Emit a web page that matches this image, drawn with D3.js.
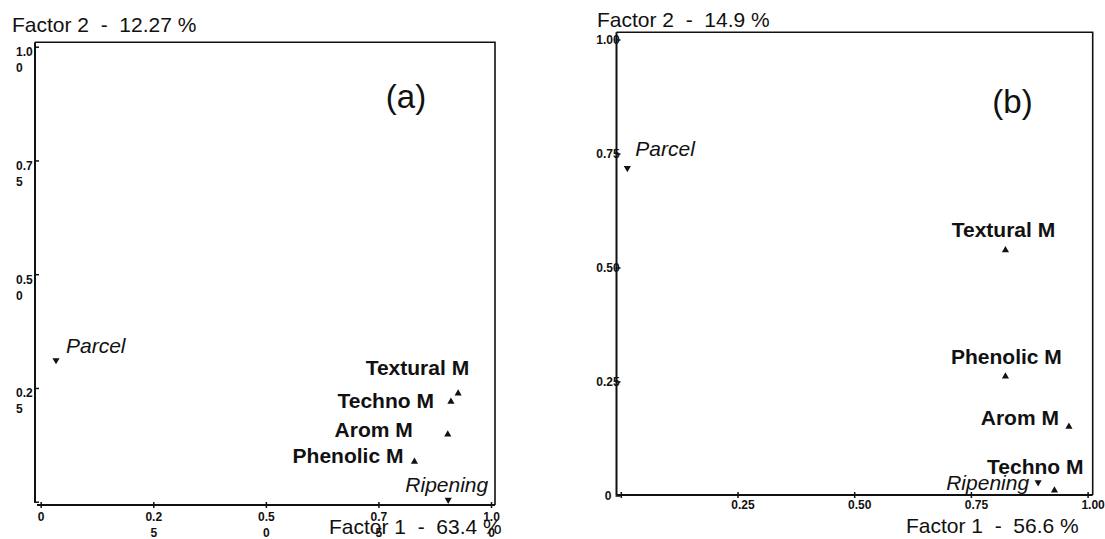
<!DOCTYPE html>
<html>
<head>
<meta charset="utf-8">
<script src="https://cdn.jsdelivr.net/npm/d3@7"></script>
<style>
  html, body { margin: 0; padding: 0; background: #fff; }
  svg { display: block; font-family: "Liberation Sans", Arial, Helvetica, sans-serif; }
</style>
</head>
<body>
<svg id="chart" width="1105" height="539"></svg>
<script>
// Variables projected on the first factorial plane
const variables = ["Parcel", "Textural M", "Techno M", "Arom M", "Phenolic M", "Ripening"];
const variableRole = ["supplementary", "active", "active", "active", "active", "supplementary"];

// Panel (a)
const factor1A = [0.034, 0.927, 0.911, 0.904, 0.830, 0.905];
const factor2A = [0.311, 0.238, 0.220, 0.148, 0.088, 0.004];
const inertiaA = [63.4, 12.27];

// Panel (b)
const factor1B = [0.014, 0.824, 0.929, 0.960, 0.824, 0.894];
const factor2B = [0.718, 0.538, 0.011, 0.151, 0.261, 0.029];
const inertiaB = [56.6, 14.9];

// Axis ticks
const tickValues = [0, 0.25, 0.5, 0.75, 1];
const xTickLabelsA = ["0", "0.25", "0.50", "0.75", "1.00"];
const yTickLabelsA = ["", "0.25", "0.50", "0.75", "1.00"];
const xTickLabelsB = ["", "0.25", "0.50", "0.75", "1.00"];
const yTickLabelsB = ["0", "0.25", "0.50", "0.75", "1.00"];

// ---- layout of each panel (pixels) ----
const layoutA = {
  tag: "(a)", tagX: 406, tagY: 108,
  yAxisX: 35, xAxisY: 505, top: 42.3, right: 495,
  xRange: [40.7, 491], yRange: [501.7, 46.7],
  yAxisBottom: 502, xAxisLeft: 37,
  wrapTicks: true,
  yTitle: { x: 12, y: 31.7 }, xTitle: { x: 329, y: 534 },
  labels: [
    { anchor: "start",  dx: 10,  dy: -7 },
    { anchor: "end",    dx: 11,  dy: -18 },
    { anchor: "end",    dx: -17, dy: 6 },
    { anchor: "end",    dx: -35, dy: 2.4 },
    { anchor: "end",    dx: -11, dy: 1.6 },
    { anchor: "end",    dx: 40,  dy: -8 }
  ]
};
const layoutB = {
  tag: "(b)", tagX: 1012.5, tagY: 113,
  yAxisX: 616.5, xAxisY: 495, top: 32.3, right: 1092.7,
  xRange: [620.8, 1087.6], yRange: [495.5, 39.5],
  yAxisBottom: 495, xAxisLeft: 616.5,
  wrapTicks: false,
  yTitle: { x: 597, y: 26.7 }, xTitle: { x: 906, y: 533 },
  labels: [
    { anchor: "start",  dx: 8,   dy: -11.6 },
    { anchor: "middle", dx: -2,  dy: -13 },
    { anchor: "end",    dx: 29,  dy: -16 },
    { anchor: "end",    dx: -10, dy: -1.7 },
    { anchor: "middle", dx: 1,   dy: -12 },
    { anchor: "end",    dx: -9,  dy: 8 }
  ]
};

const svg = d3.select("#chart");
const INK = "#111";

// Long tick labels wrap onto a second line, three characters per line
function splitLabel(s) {
  const out = [];
  for (let i = 0; i < s.length; i += 3) out.push(s.slice(i, i + 3));
  return out.length ? out : [""];
}

function drawPanel(L, f1, f2, inertia, xLabels, yLabels) {
  const g = svg.append("g");
  const x = d3.scaleLinear().domain([0, 1]).range(L.xRange);
  const y = d3.scaleLinear().domain([0, 1]).range(L.yRange);

  // frame: top and right edges
  g.append("path")
    .attr("d", `M${L.yAxisX},${L.top}H${L.right}V${L.xAxisY}`)
    .attr("fill", "none").attr("stroke", INK).attr("stroke-width", 1.6);

  // axis lines
  g.append("line")
    .attr("x1", L.yAxisX).attr("x2", L.yAxisX)
    .attr("y1", L.top).attr("y2", L.yAxisBottom)
    .attr("stroke", INK).attr("stroke-width", 2);
  g.append("line")
    .attr("x1", L.xAxisLeft).attr("x2", L.right)
    .attr("y1", L.xAxisY).attr("y2", L.xAxisY)
    .attr("stroke", INK).attr("stroke-width", 2);

  // x axis ticks and labels
  const gx = g.append("g")
    .attr("transform", `translate(0,${L.xAxisY})`)
    .call(d3.axisBottom(x).tickValues(tickValues).tickSize(0)
      .tickFormat((d, i) => xLabels[i]));
  gx.select(".domain").remove();
  gx.selectAll(".tick line")
    .attr("y1", -3).attr("y2", 3)
    .attr("stroke", INK).attr("stroke-width", 1.5);
  gx.selectAll(".tick text").each(function (d, i) {
    const t = d3.select(this);
    const s = xLabels[i];
    t.text(null).attr("dy", null)
      .attr("font-size", 12).attr("font-weight", "bold")
      .attr("fill", INK).attr("font-family", null);
    if (L.wrapTicks) {
      t.attr("y", 0).attr("text-anchor", "middle");
      splitLabel(s).forEach((part, k) => {
        t.append("tspan").attr("x", 0).attr("y", 16 + k * 16).text(part);
      });
    } else {
      t.attr("x", 5).attr("y", 14).attr("text-anchor", "middle").text(s);
    }
  });

  // y axis ticks and labels
  const gy = g.append("g")
    .attr("transform", `translate(${L.yAxisX},0)`)
    .call(d3.axisRight(y).tickValues(tickValues).tickSize(0)
      .tickFormat((d, i) => yLabels[i]));
  gy.select(".domain").remove();
  gy.selectAll(".tick line")
    .attr("x1", -1).attr("x2", 4)
    .attr("stroke", INK).attr("stroke-width", 1.5);
  gy.selectAll(".tick text").each(function (d, i) {
    const t = d3.select(this);
    const s = yLabels[i];
    t.text(null).attr("dy", null)
      .attr("font-size", 12).attr("font-weight", "bold")
      .attr("fill", INK).attr("font-family", null);
    if (L.wrapTicks) {
      t.attr("x", 0).attr("text-anchor", "start");
      splitLabel(s).forEach((part, k) => {
        t.append("tspan").attr("x", 16 - L.yAxisX).attr("y", 9 + k * 16).text(part);
      });
    } else {
      t.attr("x", -8.5).attr("y", 0).attr("dy", "0.35em")
        .attr("text-anchor", "middle").text(s);
    }
  });

  // factor titles
  g.append("text")
    .attr("x", L.yTitle.x).attr("y", L.yTitle.y)
    .attr("font-size", 21).attr("fill", INK)
    .attr("xml:space", "preserve")
    .text(`Factor 2  -  ${inertia[1]} %`);
  g.append("text")
    .attr("x", L.xTitle.x).attr("y", L.xTitle.y)
    .attr("font-size", 21).attr("fill", INK)
    .attr("xml:space", "preserve")
    .text(`Factor 1  -  ${inertia[0]} %`);

  // panel tag
  g.append("text")
    .attr("x", L.tagX).attr("y", L.tagY)
    .attr("text-anchor", "middle")
    .attr("font-size", 33).attr("fill", INK)
    .text(L.tag);

  // points
  const pts = variables.map((name, i) => ({
    name, role: variableRole[i], fx: f1[i], fy: f2[i], lab: L.labels[i]
  }));
  const tri = d3.symbol().type(d3.symbolTriangle).size(22);
  g.selectAll("path.pt").data(pts).join("path")
    .attr("class", "pt")
    .attr("d", tri)
    .attr("fill", INK)
    .attr("transform", d =>
      `translate(${x(d.fx)},${y(d.fy)})` + (d.role === "supplementary" ? " rotate(180)" : ""));

  g.selectAll("text.lbl").data(pts).join("text")
    .attr("class", "lbl")
    .attr("x", d => x(d.fx) + d.lab.dx)
    .attr("y", d => y(d.fy) + d.lab.dy)
    .attr("text-anchor", d => d.lab.anchor)
    .attr("font-size", 21)
    .attr("font-weight", d => d.role === "active" ? "bold" : "normal")
    .attr("font-style", d => d.role === "supplementary" ? "italic" : "normal")
    .attr("fill", INK)
    .text(d => d.name);
}

drawPanel(layoutA, factor1A, factor2A, inertiaA, xTickLabelsA, yTickLabelsA);
drawPanel(layoutB, factor1B, factor2B, inertiaB, xTickLabelsB, yTickLabelsB);
</script>
</body>
</html>
